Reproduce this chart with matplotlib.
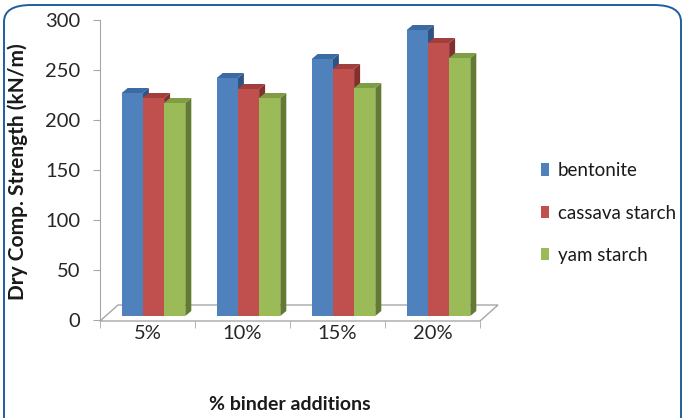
import numpy as np
import matplotlib.pyplot as plt
from matplotlib.patches import Polygon, Patch, FancyBboxPatch

plt.rcParams['font.family'] = ['Lato', 'DejaVu Sans']

# binder levels and dry compressive strength (kN/m)
categories = ["5%", "10%", "15%", "20%"]
series = ["bentonite", "cassava starch", "yam starch"]
bentonite = [223, 238, 257, 286]
cassava = [218, 227, 247, 273]
yam = [213, 218, 228, 258]
values = [bentonite, cassava, yam]

front_col = ["#4F81BD", "#C0504D", "#9BBB59"]
top_col = ["#3C6AA3", "#A23E3B", "#809D45"]
side_col = ["#2F5383", "#82302E", "#637A33"]

W, H = 684, 418
fig = plt.figure(figsize=(W / 100, H / 100), dpi=100)

# axes spans px 100..500 horizontally, px 20..321 vertically
ax = fig.add_axes([100 / W, (H - 321) / H, 400 / W, 301 / H])
ax.set_xlim(-0.5, 400 / 95 - 0.5)
ax.set_ylim(-1, 300)

px = 1 / 95.0          # one pixel in category units
bw = 21.2 * px         # bar width
ddx, ddy = 6 * px, 5   # bar depth offset
base = 4               # bars stand set back on the floor
x0 = -25.8 * px        # left edge of first bar relative to category centre

# floor
floor = Polygon([(-0.5, -1), (3.5, -1), (3.5 + 18 * px, 15), (-0.5 + 18 * px, 15)],
                closed=True, facecolor="white", edgecolor="#A6A6A6", lw=1.0,
                clip_on=False, zorder=1)
ax.add_patch(floor)

for i in range(len(categories)):
    for k in range(len(series)):
        v = values[k][i]
        xl = i + x0 + k * bw
        xr = xl + bw
        yb, yt = base, base + v
        side = Polygon([(xr, yb), (xr + ddx, yb + ddy), (xr + ddx, yt + ddy), (xr, yt)],
                       closed=True, facecolor=side_col[k], edgecolor="none", zorder=2)
        top = Polygon([(xl, yt), (xr, yt), (xr + ddx, yt + ddy), (xl + ddx, yt + ddy)],
                      closed=True, facecolor=top_col[k], edgecolor="none", zorder=2)
        ax.add_patch(side)
        ax.add_patch(top)
        ax.bar(xl, v, width=bw, bottom=yb, align="edge", color=front_col[k],
               edgecolor="none", zorder=3)

# axes styling
for s in ["top", "right", "bottom"]:
    ax.spines[s].set_visible(False)
ax.spines["left"].set_color("#A6A6A6")
ax.spines["left"].set_bounds(-1, 300)
ax.set_yticks(np.arange(0, 301, 50))
ax.tick_params(axis="y", length=5, color="#A6A6A6", pad=9, labelsize=14.5,
               labelcolor="#262626")

ax.set_xticks(range(len(categories)))
ax.set_xticklabels(categories)
ax.set_xticks(np.arange(-0.5, 4, 1), minor=True)
ax.tick_params(axis="x", which="major", length=0, pad=3, labelsize=14.5,
               labelcolor="#262626")
ax.tick_params(axis="x", which="minor", length=5, color="#A6A6A6")

fig.text(18 / W, 1 - 172 / H, "Dry Comp. Strength (kN/m)", rotation=90,
         ha="center", va="center", fontsize=15, fontweight="bold", color="#1a1a1a")
fig.text(290 / W, 1 - 405 / H, "% binder additions", ha="center", va="center",
         fontsize=14, fontweight="bold", color="#1a1a1a")

handles = [Patch(facecolor=c, edgecolor="none") for c in front_col]
fig.legend(handles, series, loc="center left", bbox_to_anchor=(541 / W, 1 - 213 / H),
           frameon=False, fontsize=13.5, handlelength=0.45, handleheight=0.65,
           handletextpad=0.45, labelspacing=1.35, borderpad=0, borderaxespad=0,
           labelcolor="#1a1a1a")

# rounded frame around the figure
frame = FancyBboxPatch((4 / W, -0.2), 677 / W, 1.2 - 5 / H,
                       boxstyle="round,pad=0,rounding_size=0.04",
                       transform=fig.transFigure, facecolor="none",
                       edgecolor="#1F5E9E", lw=1.4, clip_on=False)
fig.patches.append(frame)

fig.savefig("out.png", dpi=100)
